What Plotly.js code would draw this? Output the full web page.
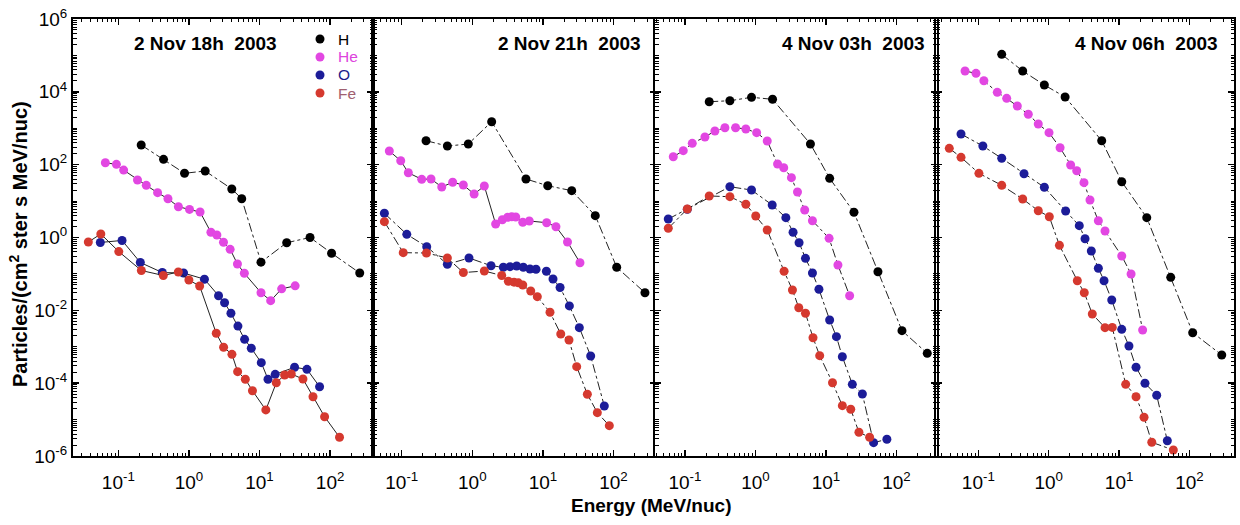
<!DOCTYPE html>
<html>
<head>
<meta charset="utf-8">
<script src="https://cdn.plot.ly/plotly-3.0.1.min.js"></script>
<style>html,body{margin:0;padding:0;background:#fff;}#chart{width:1240px;height:525px;}</style>
</head>
<body>
<div id="chart"></div>
<script>
// ---------- DATA (energy in MeV/nuc, flux in particles/(cm2 ster s MeV/nuc)) ----------
const panelTitles = ['2 Nov 18h\u00a0 2003', '2 Nov 21h\u00a0 2003', '4 Nov 03h\u00a0 2003', '4 Nov 06h\u00a0 2003'];
const species = ['H', 'He', 'O', 'Fe'];
const xTickVals = [0.1, 1, 10, 100];
const xTickText = ['10<sup>-1</sup>', '10<sup>0</sup>', '10<sup>1</sup>', '10<sup>2</sup>'];
const yTickVals = [1e-6, 1e-4, 1e-2, 1, 100, 1e4, 1e6];
const yTickText = ['10<sup>-6</sup>', '10<sup>-4</sup>', '10<sup>-2</sup>', '10<sup>0</sup>', '10<sup>2</sup>', '10<sup>4</sup>', '10<sup>6</sup>'];
const yOddDecades = [1e-5, 1e-3, 1e-1, 10, 1e3, 1e5];

// Panel 1: 2 Nov 18h
const p1_H_E  = [0.211, 0.437, 0.867, 1.70, 4.05, 5.6, 10.5, 24.3, 52, 105, 263];
const p1_H_F  = [347, 140, 58, 67, 21.5, 11.6, 0.21, 0.72, 1.0, 0.37, 0.106];
const p1_He_E = [0.0655, 0.094, 0.119, 0.187, 0.249, 0.36, 0.505, 0.71, 1.02, 1.44, 2.05, 2.49, 3.09, 3.84, 4.87, 6.1, 10.5, 14.4, 20.6, 32];
const p1_He_F = [113, 102, 71, 38, 27, 17, 11.6, 7.0, 5.9, 5.0, 1.39, 1.17, 0.74, 0.474, 0.187, 0.104, 0.0305, 0.0184, 0.039, 0.047];
const p1_O_E  = [0.0556, 0.113, 0.205, 0.42, 0.84, 1.66, 2.63, 3.2, 3.94, 4.95, 6.15, 7.65, 10.6, 13.2, 16.7, 31.4, 47, 71];
const p1_O_F  = [0.73, 0.83, 0.206, 0.109, 0.106, 0.0716, 0.0252, 0.0162, 0.0083, 0.0037, 0.0016, 0.00091, 3.65e-4, 1.28e-4, 1.75e-4, 2.73e-4, 2.4e-4, 8.0e-5];
const p1_Fe_E = [0.0376, 0.0565, 0.1016, 0.212, 0.434, 0.708, 1.0, 1.42, 2.44, 3.1, 4.07, 4.9, 6.3, 7.95, 12.3, 17.3, 22.7, 28.2, 41.3, 57.3, 83.6, 136];
const p1_Fe_F = [0.75, 1.25, 0.41, 0.124, 0.0906, 0.113, 0.068, 0.0466, 0.00234, 0.00097, 0.00062, 2.07e-4, 1.28e-4, 6.2e-5, 1.84e-5, 1.03e-4, 1.68e-4, 1.79e-4, 1.30e-4, 4.25e-5, 1.2e-5, 3.27e-6];

// Panel 2: 2 Nov 21h
const p2_H_E  = [0.221, 0.443, 0.877, 1.88, 5.75, 11.7, 25.6, 55.2, 111, 279];
const p2_H_F  = [455, 325, 369, 1510, 40.4, 26.4, 19.3, 3.97, 0.152, 0.0305];
const p2_He_E = [0.0667, 0.0968, 0.124, 0.192, 0.26, 0.369, 0.527, 0.746, 1.06, 1.48, 2.14, 2.66, 3.17, 3.61, 4.12, 5.18, 6.41, 11.3, 15.3, 22.3, 33.5];
const p2_He_F = [237, 128, 60, 39.6, 40.4, 24.4, 32.8, 27.6, 15.6, 25.9, 2.35, 3.08, 3.59, 3.72, 3.66, 2.61, 2.84, 2.55, 1.98, 0.752, 0.203];
const p2_O_E  = [0.0568, 0.118, 0.226, 0.443, 0.897, 1.84, 2.75, 3.42, 4.25, 5.28, 6.56, 7.98, 11.2, 13.9, 17.5, 23.7, 32.8, 47.5, 74.1];
const p2_O_F  = [4.62, 1.22, 0.559, 0.184, 0.274, 0.168, 0.152, 0.158, 0.165, 0.152, 0.136, 0.134, 0.118, 0.0726, 0.0424, 0.0132, 0.00334, 5.57e-4, 2.36e-5];
const p2_Fe_E = [0.0568, 0.105, 0.224, 0.443, 0.746, 1.48, 2.61, 3.24, 3.9, 4.49, 5.18, 6.72, 8.33, 12.6, 17.9, 23.4, 30.1, 42.6, 59, 87.2];
const p2_Fe_F = [2.72, 0.383, 0.375, 0.274, 0.109, 0.12, 0.0905, 0.0627, 0.0593, 0.057, 0.0497, 0.034, 0.0237, 0.00883, 0.00224, 0.00153, 2.84e-4, 4.95e-5, 1.55e-5, 6.8e-6];

// Panel 3: 4 Nov 03h
const p3_H_E  = [0.221, 0.434, 0.88, 1.75, 6.03, 11.3, 25, 54.7, 120, 274];
const p3_H_F  = [5350, 5700, 7070, 6240, 369, 42.2, 4.92, 0.115, 0.00276, 6.6e-4];
const p3_He_E = [0.0683, 0.0946, 0.127, 0.192, 0.266, 0.369, 0.523, 0.731, 1.04, 1.47, 2.06, 2.52, 3.24, 3.95, 5.0, 6.44, 11.1, 14.8, 21.7];
const p3_He_F = [165, 242, 386, 575, 840, 1035, 1035, 953, 755, 446, 104, 82.5, 43.9, 17.7, 5.69, 2.89, 0.95, 0.176, 0.0252];
const p3_O_E  = [0.058, 0.108, 0.434, 0.88, 1.73, 2.7, 3.42, 4.16, 5.13, 6.44, 7.96, 11.3, 14.1, 17.1, 23.7, 32.9, 47.5, 73.3];
const p3_O_F  = [3.22, 5.95, 24.8, 20.1, 7.8, 3.5, 1.39, 0.72, 0.268, 0.106, 0.038, 0.00543, 0.00189, 5.33e-4, 9.3e-5, 5.05e-5, 2.32e-6, 2.88e-6];
const p3_Fe_E = [0.058, 0.108, 0.221, 0.434, 0.731, 1.01, 1.47, 2.55, 3.35, 4.12, 5.13, 6.56, 8.16, 12.4, 17.1, 22.5, 29.4, 41.7];
const p3_Fe_F = [1.79, 6.06, 13.8, 13.2, 8.16, 3.89, 1.61, 0.118, 0.0362, 0.0118, 0.0083, 0.00177, 5.69e-4, 1.03e-4, 2.41e-5, 1.92e-5, 4.48e-6, 3.27e-6];

// Panel 4: 4 Nov 06h
const p4_H_E  = [0.215, 0.427, 0.867, 1.71, 5.66, 10.9, 24.7, 54.1, 111, 287];
const p4_H_F  = [107000, 37300, 15400, 7210, 455, 34, 3.5, 0.0807, 0.00243, 5.94e-4];
const p4_He_E = [0.0648, 0.0927, 0.12, 0.186, 0.253, 0.358, 0.513, 0.711, 1.01, 1.45, 2.05, 2.5, 3.17, 3.86, 5.07, 6.31, 10.9, 14.8, 21.6];
const p4_He_F = [37300, 32200, 20200, 9700, 6640, 4080, 2420, 1310, 755, 292, 98, 68.3, 32, 10.7, 2.89, 1.51, 0.31, 0.0995, 0.00288];
const p4_O_E  = [0.0568, 0.116, 0.215, 0.446, 0.867, 1.74, 2.72, 3.28, 4.03, 5.07, 6.11, 7.86, 10.9, 13.8, 17.4, 23.3, 34.2, 48.4];
const p4_O_F  = [695, 325, 150, 56.5, 23.9, 5.34, 2.11, 0.927, 0.426, 0.143, 0.0651, 0.0192, 0.00301, 0.00105, 2.73e-4, 9.93e-5, 4.65e-5, 2.63e-6];
const p4_Fe_E = [0.0387, 0.0568, 0.102, 0.215, 0.427, 0.711, 1.02, 1.42, 2.55, 3.2, 4.16, 6.31, 8.0, 12.4, 17.4, 22.6, 29.1, 58.9];
const p4_Fe_F = [281, 159, 57.9, 27.1, 11.4, 5.44, 3.72, 0.61, 0.0651, 0.0305, 0.00794, 0.00334, 0.0034, 9.3e-5, 4.25e-5, 1.16e-5, 2.38e-6, 1.46e-6];

// ---------- STYLE ----------
const W = 1240, H = 525;
const FONT = '"Liberation Sans", Arial, Helvetica, sans-serif';
const markerColors = {H: '#000000', He: '#e247e2', O: '#1c1c98', Fe: '#d5392f'};
const legendTextColors = {H: '#000000', He: '#dd44dd', O: '#1c1c8c', Fe: '#a06070'};
const lineDash = [
  {H: 'dashdot', He: 'solid', O: 'solid', Fe: 'solid'},
  {H: 'dashdot', He: 'solid', O: 'dashdot', Fe: 'dashdot'},
  {H: 'dashdot', He: 'dashdot', O: 'dashdot', Fe: 'dashdot'},
  {H: 'dashdot', He: 'dashdot', O: 'dashdot', Fe: 'dashdot'}
];
const panelPx = [[73, 373], [373, 656], [655, 936.5], [936, 1234]];
const xRanges = [[-1.642, 2.608], [-1.407, 2.602], [-1.425, 2.569], [-1.601, 2.632]];
const yTopPx = 19, yBotPx = 456;

const panelData = [
  {H: [p1_H_E, p1_H_F], He: [p1_He_E, p1_He_F], O: [p1_O_E, p1_O_F], Fe: [p1_Fe_E, p1_Fe_F]},
  {H: [p2_H_E, p2_H_F], He: [p2_He_E, p2_He_F], O: [p2_O_E, p2_O_F], Fe: [p2_Fe_E, p2_Fe_F]},
  {H: [p3_H_E, p3_H_F], He: [p3_He_E, p3_He_F], O: [p3_O_E, p3_O_F], Fe: [p3_Fe_E, p3_Fe_F]},
  {H: [p4_H_E, p4_H_F], He: [p4_He_E, p4_He_F], O: [p4_O_E, p4_O_F], Fe: [p4_Fe_E, p4_Fe_F]}
];

// minor y ticks: 2..9 within each decade plus the unlabelled odd decades
const yMinor = [];
for (let e = -6; e < 6; e++) for (let m = 2; m <= 9; m++) yMinor.push(m * Math.pow(10, e));
yOddDecades.forEach(v => yMinor.push(v));

const traces = [];
panelData.forEach((pd, i) => {
  const sfx = i === 0 ? '' : String(i + 1);
  species.forEach(s => {
    traces.push({
      type: 'scatter', mode: 'lines+markers', name: s,
      x: pd[s][0], y: pd[s][1],
      xaxis: 'x' + sfx, yaxis: 'y' + sfx,
      showlegend: false, cliponaxis: false,
      line: {color: '#222222', width: 1, dash: lineDash[i][s]},
      marker: {color: markerColors[s], size: 9, symbol: 'circle', line: {width: 0}}
    });
  });
});

const layout = {
  width: W, height: H,
  margin: {l: 0, r: 0, t: 0, b: 0},
  paper_bgcolor: '#ffffff', plot_bgcolor: '#ffffff',
  showlegend: false,
  font: {family: FONT, color: '#000'},
  annotations: [], shapes: []
};

const yDomain = [1 - yBotPx / H, 1 - yTopPx / H];
panelPx.forEach((px, i) => {
  const sfx = i === 0 ? '' : String(i + 1);
  layout['xaxis' + sfx] = {
    type: 'log', range: xRanges[i], domain: [px[0] / W, px[1] / W],
    anchor: 'y' + sfx,
    showline: true, linecolor: '#000', linewidth: 2, mirror: 'allticks',
    ticks: 'inside', ticklen: 6, tickwidth: 1.5, tickcolor: '#000',
    tickmode: 'array', tickvals: xTickVals, ticktext: xTickText,
    tickfont: {family: FONT, size: 19, color: '#000'},
    ticklabelstandoff: 8,
    minor: {ticks: 'inside', ticklen: 3, tickwidth: 1, tickcolor: '#000', dtick: 'D1', showgrid: false},
    showgrid: false, zeroline: false, fixedrange: true
  };
  layout['yaxis' + sfx] = {
    type: 'log', range: [-6, 6], domain: yDomain,
    anchor: 'x' + sfx,
    showline: true, linecolor: '#000', linewidth: 2, mirror: 'allticks',
    ticks: 'inside', ticklen: 6, tickwidth: 1.5, tickcolor: '#000',
    tickmode: 'array', tickvals: yTickVals, ticktext: yTickText,
    showticklabels: i === 0,
    tickfont: {family: FONT, size: 19, color: '#000'},
    minor: {ticks: 'inside', ticklen: 3.5, tickwidth: 1, tickcolor: '#000', tickmode: 'array', tickvals: yMinor, showgrid: false},
    showgrid: false, zeroline: false, fixedrange: true
  };
});

// panel titles
const titlePos = [[205.5, 'center'], [643, 'right'], [927, 'right'], [1220, 'right']];
panelTitles.forEach((t, i) => {
  layout.annotations.push({
    text: '<b>' + t + '</b>', xref: 'paper', yref: 'paper',
    x: titlePos[i][0] / W, y: 1 - 44 / H, xanchor: titlePos[i][1], yanchor: 'middle',
    showarrow: false, font: {family: FONT, size: 19, color: '#000'}
  });
});

// legend (panel 1, top right)
const legRows = [39, 57, 75, 93];
species.forEach((s, k) => {
  layout.shapes.push({
    type: 'circle', xref: 'paper', yref: 'paper',
    xsizemode: 'pixel', ysizemode: 'pixel',
    xanchor: 320 / W, yanchor: 1 - legRows[k] / H,
    x0: -4.5, x1: 4.5, y0: -4.5, y1: 4.5,
    fillcolor: markerColors[s], line: {width: 0}
  });
  layout.annotations.push({
    text: s, xref: 'paper', yref: 'paper',
    x: 337 / W, y: 1 - legRows[k] / H, xanchor: 'left', yanchor: 'middle',
    borderpad: 0,
    showarrow: false, font: {family: FONT, size: 15.5, color: legendTextColors[s]}
  });
});

// axis titles
layout.annotations.push({
  text: '<b>Energy (MeV/nuc)</b>', xref: 'paper', yref: 'paper',
  x: 651 / W, y: 1 - 505 / H, xanchor: 'center', yanchor: 'middle',
  showarrow: false, font: {family: FONT, size: 19, color: '#000'}
});
layout.annotations.push({
  text: '<b>Particles/(cm<sup>2</sup> ster s MeV/nuc)</b>', xref: 'paper', yref: 'paper',
  x: 19 / W, y: 1 - 244 / H, xanchor: 'center', yanchor: 'middle', textangle: -90,
  showarrow: false, font: {family: FONT, size: 20, color: '#000'}
});

Plotly.newPlot('chart', traces, layout, {staticPlot: true, displayModeBar: false}).then(gd => {
  // drop invisible placeholder text nodes (nothing visible changes)
  gd.querySelectorAll('text').forEach(t => {
    let bb = null;
    try { bb = t.getBBox(); } catch (e) { bb = null; }
    if (!t.textContent.trim() || !bb || bb.width === 0 || bb.height === 0) t.remove();
  });
});
</script>
</body>
</html>
